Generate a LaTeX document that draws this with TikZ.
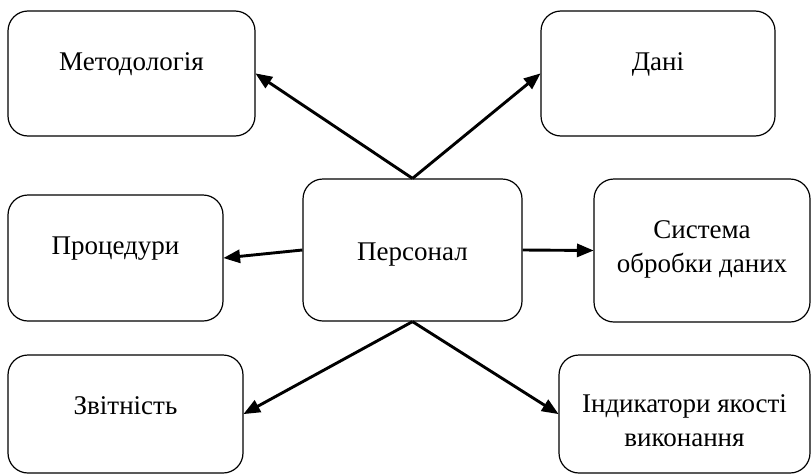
\documentclass[tikz,border=0pt]{standalone}
\usepackage{fontspec}
\setmainfont{Liberation Serif}
\usepackage{tikz}
\usetikzlibrary{arrows}

\begin{document}
\begin{tikzpicture}[x=1pt,y=-1pt]
  \tikzstyle{every node}=[draw,shape=rectangle,rounded corners=20pt,line width=1.2pt,
    align=center,inner sep=0pt,text height=18pt,font=\fontsize{27}{34}\selectfont]
  \tikzstyle{link}=[line width=2.9pt,-triangle 45]
  \useasboundingbox (0,0) rectangle (811,474);
  \path (131.5,73.5) node[minimum width=247pt,minimum height=125pt,text depth=25pt] (metod) {Методологія};
\path (658,73.5) node[minimum width=234pt,minimum height=125pt,text depth=25pt] (dani) {Дані};
\path (115.5,258) node[minimum width=215pt,minimum height=126pt,text depth=26pt] (proc) {Процедури};
\path (412.5,250) node[minimum width=219pt,minimum height=142pt,text height=20pt,text depth=0pt] (pers) {Персонал};
\path (702,250.5) node[minimum width=216pt,minimum height=143pt,text height=52pt,text depth=9pt] (sys) {Система\\обробки даних};
\path (125.5,414) node[minimum width=235pt,minimum height=118pt,text depth=18pt] (zvit) {Звітність};
\path (684.5,414) node[minimum width=251pt,minimum height=118pt,text height=70pt,text depth=6pt] (ind) {Індикатори якості\\виконання};
  \draw[link] (pers.north) -- (metod.east);
  \draw[link] (pers.north) -- (dani.west);
  \draw[link] (pers.west) -- (proc.east);
  \draw[link] (pers.east) -- (sys.west);
  \draw[link] (pers.south) -- (zvit.east);
  \draw[link] (pers.south) -- (ind.west);
\end{tikzpicture}
\end{document}
